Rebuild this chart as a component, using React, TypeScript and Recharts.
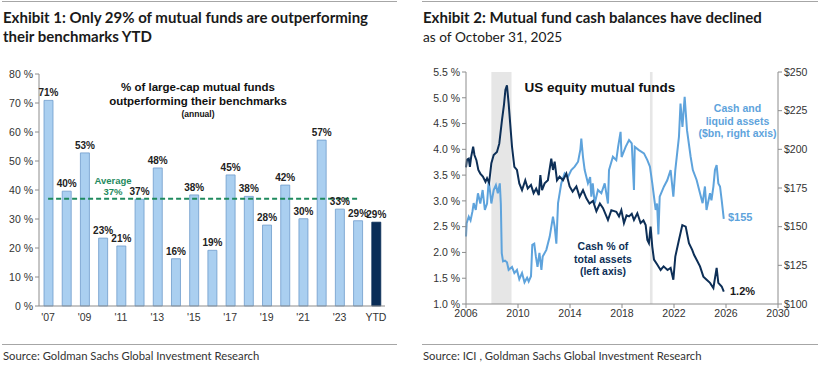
import React from "react";
import {
  ComposedChart,
  LineChart,
  Bar,
  Cell,
  Line,
  XAxis,
  YAxis,
  LabelList,
  ReferenceArea,
} from "recharts";

// Exhibit 1: % of large-cap funds beating their benchmark
const fundYears = ["'07", "'08", "'09", "'10", "'11", "'12", "'13", "'14", "'15", "'16", "'17", "'18", "'19", "'20", "'21", "'22", "'23", "'24", "YTD"];
const outperformPct = [70.9, 39.6, 52.8, 23.4, 20.7, 36.8, 47.6, 16.3, 38.3, 19.2, 45.2, 37.8, 27.9, 41.7, 30.1, 57.2, 33.4, 29.4, 28.9];
const averagePct = 37;

// Exhibit 2: cash % of total assets (left axis)
const cashPctDates = [2006.0, 2006.08, 2006.21, 2006.3, 2006.4, 2006.55, 2006.65, 2006.8, 2006.95, 2007.1, 2007.3, 2007.5, 2007.62, 2007.78, 2007.95, 2008.13, 2008.38, 2008.56, 2008.77, 2008.92, 2009.03, 2009.15, 2009.28, 2009.4, 2009.54, 2009.72, 2009.92, 2010.1, 2010.31, 2010.56, 2010.75, 2011.0, 2011.2, 2011.4, 2011.6, 2011.72, 2011.85, 2012.05, 2012.3, 2012.56, 2012.69, 2012.82, 2013.0, 2013.2, 2013.46, 2013.72, 2013.97, 2014.2, 2014.49, 2014.74, 2015.0, 2015.26, 2015.5, 2015.77, 2016.03, 2016.3, 2016.54, 2016.92, 2017.18, 2017.56, 2017.77, 2017.95, 2018.15, 2018.35, 2018.54, 2018.75, 2018.92, 2019.18, 2019.43, 2019.65, 2019.82, 2019.95, 2020.07, 2020.2, 2020.33, 2020.46, 2020.72, 2020.97, 2021.2, 2021.5, 2021.74, 2021.95, 2022.1, 2022.38, 2022.64, 2022.9, 2023.15, 2023.4, 2023.55, 2023.74, 2024.0, 2024.26, 2024.51, 2024.77, 2025.03, 2025.28, 2025.41, 2025.67, 2025.83];
const cashPctValues = [3.65, 3.8, 3.82, 3.66, 3.86, 4.05, 3.89, 3.79, 3.6, 3.53, 3.47, 3.37, 3.44, 3.35, 3.73, 3.89, 3.95, 4.11, 4.57, 4.86, 5.15, 5.24, 4.89, 4.5, 4.05, 3.66, 3.6, 3.34, 3.21, 3.4, 3.24, 3.31, 3.15, 3.24, 3.11, 3.5, 3.21, 3.34, 3.4, 3.82, 3.6, 3.76, 3.4, 3.47, 3.4, 3.53, 3.28, 3.18, 3.28, 3.08, 3.21, 3.05, 2.95, 3.0, 2.8, 2.95, 2.86, 2.63, 2.82, 2.79, 2.7, 2.82, 2.57, 2.72, 2.7, 2.75, 2.63, 2.76, 2.57, 2.62, 2.53, 2.24, 2.18, 2.5, 2.11, 1.86, 1.76, 1.66, 1.73, 1.66, 1.7, 1.47, 1.92, 2.24, 2.53, 2.5, 2.18, 2.05, 1.95, 1.86, 1.73, 1.53, 1.47, 1.41, 1.31, 1.7, 1.41, 1.34, 1.24];

// Exhibit 2: cash and liquid assets, $bn (right axis)
const cashBnDates = [2006.0, 2006.05, 2006.21, 2006.35, 2006.5, 2006.59, 2006.75, 2006.92, 2007.1, 2007.28, 2007.45, 2007.62, 2007.75, 2007.95, 2008.13, 2008.3, 2008.45, 2008.6, 2008.68, 2008.75, 2008.85, 2009.0, 2009.15, 2009.28, 2009.54, 2009.72, 2009.92, 2010.1, 2010.31, 2010.5, 2010.7, 2010.82, 2011.0, 2011.1, 2011.25, 2011.38, 2011.5, 2011.65, 2011.8, 2011.9, 2012.18, 2012.44, 2012.69, 2012.82, 2012.95, 2013.08, 2013.33, 2013.59, 2013.85, 2014.1, 2014.36, 2014.62, 2014.8, 2014.87, 2015.0, 2015.13, 2015.38, 2015.55, 2015.64, 2015.75, 2015.9, 2016.15, 2016.41, 2016.67, 2016.92, 2017.0, 2017.3, 2017.56, 2017.7, 2017.89, 2017.97, 2018.28, 2018.54, 2018.75, 2018.92, 2018.98, 2019.3, 2019.69, 2019.95, 2020.15, 2020.33, 2020.46, 2020.59, 2020.7, 2020.8, 2020.9, 2021.23, 2021.48, 2021.74, 2021.95, 2022.1, 2022.38, 2022.5, 2022.65, 2022.82, 2023.0, 2023.28, 2023.45, 2023.74, 2024.0, 2024.2, 2024.38, 2024.5, 2024.77, 2024.88, 2025.03, 2025.15, 2025.28, 2025.41, 2025.54, 2025.67, 2025.83];
const cashBnValues = [143.6, 152.3, 156.5, 154, 160, 165.2, 160.8, 171.6, 165, 173.7, 160.8, 165, 180.2, 165, 173.7, 176.9, 171.6, 178, 165, 132.9, 127.5, 128, 127, 122.1, 124, 120, 122, 116, 120, 114, 117, 114.6, 118, 138.3, 139, 130.4, 124, 133, 122.1, 130.7, 135, 143.6, 156.5, 150, 139, 165.2, 178, 184.5, 182.3, 186.6, 188.8, 192, 200, 207, 195, 186.6, 178, 182, 169.4, 178, 165, 173.7, 171.6, 178, 165, 186.6, 195.2, 193, 201.6, 211.3, 195, 201.6, 206, 203.8, 173.7, 201.6, 199.5, 197.4, 193, 188.8, 178, 169.4, 160.8, 165, 145, 169.4, 176, 180, 186.6, 169.4, 186.6, 208, 229.6, 214.5, 233.9, 212.4, 195.2, 186.6, 180.2, 171.6, 165.2, 176, 160.8, 171.6, 167, 175.9, 186.6, 189.8, 178, 176, 167, 155];

const recessions = [
  [2007.95, 2009.5],
  [2020.15, 2020.35],
];

const barData = fundYears.map((year, i) => ({
  year,
  pct: outperformPct[i],
  avg: year === "YTD" ? null : averagePct,
}));
const pctSeries = cashPctDates.map((x, i) => ({ x, y: cashPctValues[i] }));
const bnSeries = cashBnDates.map((x, i) => ({ x, y: cashBnValues[i] }));

const AXIS = "#8c8c8c";
const TICK = { fontSize: 10.5, fill: "#333" };
const NAVY = "#0d2f57";
const SKY = "#5ea3dc";
const titleFont = "Lato, 'Open Sans', sans-serif";

const abs = (left: number, top: number, extra: React.CSSProperties = {}): React.CSSProperties => ({
  position: "absolute",
  left,
  top,
  ...extra,
});

function BenchmarkChart() {
  return (
    <ComposedChart
      width={400}
      height={330}
      data={barData}
      margin={{ top: 74, right: 15, bottom: 4, left: 0 }}
    >
      <XAxis xAxisId="top" dataKey="year" orientation="top" height={0} tick={false} tickLine={false} stroke={AXIS} />
      <YAxis yAxisId="box" orientation="right" width={0} tick={false} tickLine={false} stroke={AXIS} />
      <XAxis dataKey="year" interval={1} tick={TICK} tickLine={false} stroke={AXIS} height={20} />
      <YAxis
        domain={[0, 80]}
        ticks={[0, 10, 20, 30, 40, 50, 60, 70, 80]}
        tickFormatter={(v) => `${v} %`}
        tick={TICK}
        tickSize={4}
        stroke={AXIS}
        width={39}
      />
      <Bar dataKey="pct" barSize={9} stroke="#6e9ccb" strokeWidth={0.8} isAnimationActive={false}>
        {barData.map((d) => (
          <Cell key={d.year} fill={d.year === "YTD" ? "#0a2d57" : "#aacff0"} stroke={d.year === "YTD" ? "#0a2d57" : "#6e9ccb"} />
        ))}
        <LabelList
          dataKey="pct"
          position="top"
          offset={4}
          formatter={(v: any) => `${Math.round(Number(v))}%`}
          style={{ fontSize: 10, fontWeight: 700, fill: "#222" }}
        />
      </Bar>
      <Line
        dataKey="avg"
        stroke="#1f8a5e"
        strokeWidth={2}
        strokeDasharray="5 3"
        dot={false}
        activeDot={false}
        isAnimationActive={false}
      />
    </ComposedChart>
  );
}

function CashChart() {
  return (
    <LineChart width={410} height={330} margin={{ top: 72, right: 0, bottom: 6, left: 0 }}>
      <XAxis
        type="number"
        dataKey="x"
        domain={[2006, 2030]}
        ticks={[2006, 2010, 2014, 2018, 2022, 2026, 2030]}
        tick={TICK}
        tickSize={4}
        stroke={AXIS}
        height={20}
        allowDuplicatedCategory={false}
      />
      <YAxis
        yAxisId="left"
        domain={[1, 5.5]}
        ticks={[1, 1.5, 2, 2.5, 3, 3.5, 4, 4.5, 5, 5.5]}
        tickFormatter={(v) => `${Number(v).toFixed(1)} %`}
        tick={TICK}
        tickSize={4}
        stroke={AXIS}
        width={56}
      />
      <YAxis
        yAxisId="right"
        orientation="right"
        domain={[100, 250]}
        ticks={[100, 125, 150, 175, 200, 225, 250]}
        tickFormatter={(v) => `$${v}`}
        tick={TICK}
        tickSize={4}
        stroke={AXIS}
        width={42}
      />
      {recessions.map(([a, b]) => (
        <ReferenceArea key={a} yAxisId="left" x1={a} x2={b} fill="#e6e6e6" fillOpacity={1} stroke="none" />
      ))}
      <Line
        yAxisId="right"
        data={bnSeries}
        dataKey="y"
        stroke={SKY}
        strokeWidth={2}
        dot={false}
        activeDot={false}
        isAnimationActive={false}
      />
      <Line
        yAxisId="left"
        data={pctSeries}
        dataKey="y"
        stroke={NAVY}
        strokeWidth={2}
        dot={false}
        activeDot={false}
        isAnimationActive={false}
      />
    </LineChart>
  );
}

export default function App() {
  const chartFont = "'Liberation Sans', Arial, sans-serif";
  const note: React.CSSProperties = { fontFamily: chartFont, fontWeight: 700, textAlign: "center", lineHeight: "12.5px" };
  return (
    <div style={{ position: "relative", width: 820, height: 365, background: "#fff", overflow: "hidden" }}>
      <style>{"body{margin:0}"}</style>

      {/* headers */}
      <div style={abs(2, 1, { width: 395, height: 1, background: "#a6a6a6" })} />
      <div style={abs(422, 1, { width: 396, height: 1, background: "#a6a6a6" })} />
      <div style={abs(3, 8, { fontFamily: titleFont, fontWeight: 700, fontSize: 15, lineHeight: "19px", color: "#1a1a1a" })}>
        Exhibit 1: Only 29% of mutual funds are outperforming
        <br />
        their benchmarks YTD
      </div>
      <div style={abs(423, 8, { fontFamily: titleFont, fontWeight: 700, fontSize: 15, lineHeight: "19px", color: "#1a1a1a" })}>
        Exhibit 2: Mutual fund cash balances have declined
      </div>
      <div style={abs(423, 27, { fontFamily: titleFont, fontSize: 13.7, lineHeight: "19px", color: "#1a1a1a" })}>
        as of October 31, 2025
      </div>

      {/* charts */}
      <div style={abs(0, 0, { fontFamily: chartFont })}>
        <BenchmarkChart />
      </div>
      <div style={abs(410, 0, { fontFamily: chartFont })}>
        <CashChart />
      </div>

      {/* exhibit 1 annotations */}
      <div style={abs(98, 80, { ...note, width: 200, fontSize: 11.5, lineHeight: "14px", color: "#111" })}>
        % of large-cap mutual funds
        <br />
        outperforming their benchmarks
      </div>
      <div style={abs(98, 108, { ...note, width: 200, fontSize: 8.5, color: "#111" })}>(annual)</div>
      <div style={abs(88, 175, { ...note, width: 50, fontSize: 9.5, lineHeight: "11px", color: "#1f8a5e" })}>
        Average
        <br />
        37%
      </div>

      {/* exhibit 2 annotations */}
      <div style={abs(500, 80, { ...note, width: 200, fontSize: 13.5, lineHeight: "16px", color: "#111" })}>
        US equity mutual funds
      </div>
      <div style={abs(690, 102, { ...note, width: 95, fontSize: 10.5, color: SKY })}>
        Cash and
        <br />
        liquid assets
        <br />
        ($bn, right axis)
      </div>
      <div style={abs(553, 240, { ...note, width: 100, fontSize: 10.5, color: NAVY })}>
        Cash % of
        <br />
        total assets
        <br />
        (left axis)
      </div>
      <div style={abs(728, 211, { ...note, textAlign: "left", fontSize: 11, color: SKY })}>$155</div>
      <div style={abs(730, 285, { ...note, textAlign: "left", fontSize: 11, color: "#1a1a1a" })}>1.2%</div>

      {/* sources */}
      <div style={abs(2, 344, { width: 395, height: 1, background: "#a6a6a6" })} />
      <div style={abs(422, 344, { width: 396, height: 1, background: "#a6a6a6" })} />
      <div style={abs(3, 349, { fontFamily: titleFont, fontSize: 11.3, color: "#333" })}>
        Source: Goldman Sachs Global Investment Research
      </div>
      <div style={abs(423, 349, { fontFamily: titleFont, fontSize: 11.3, color: "#333" })}>
        Source: ICI , Goldman Sachs Global Investment Research
      </div>
    </div>
  );
}
